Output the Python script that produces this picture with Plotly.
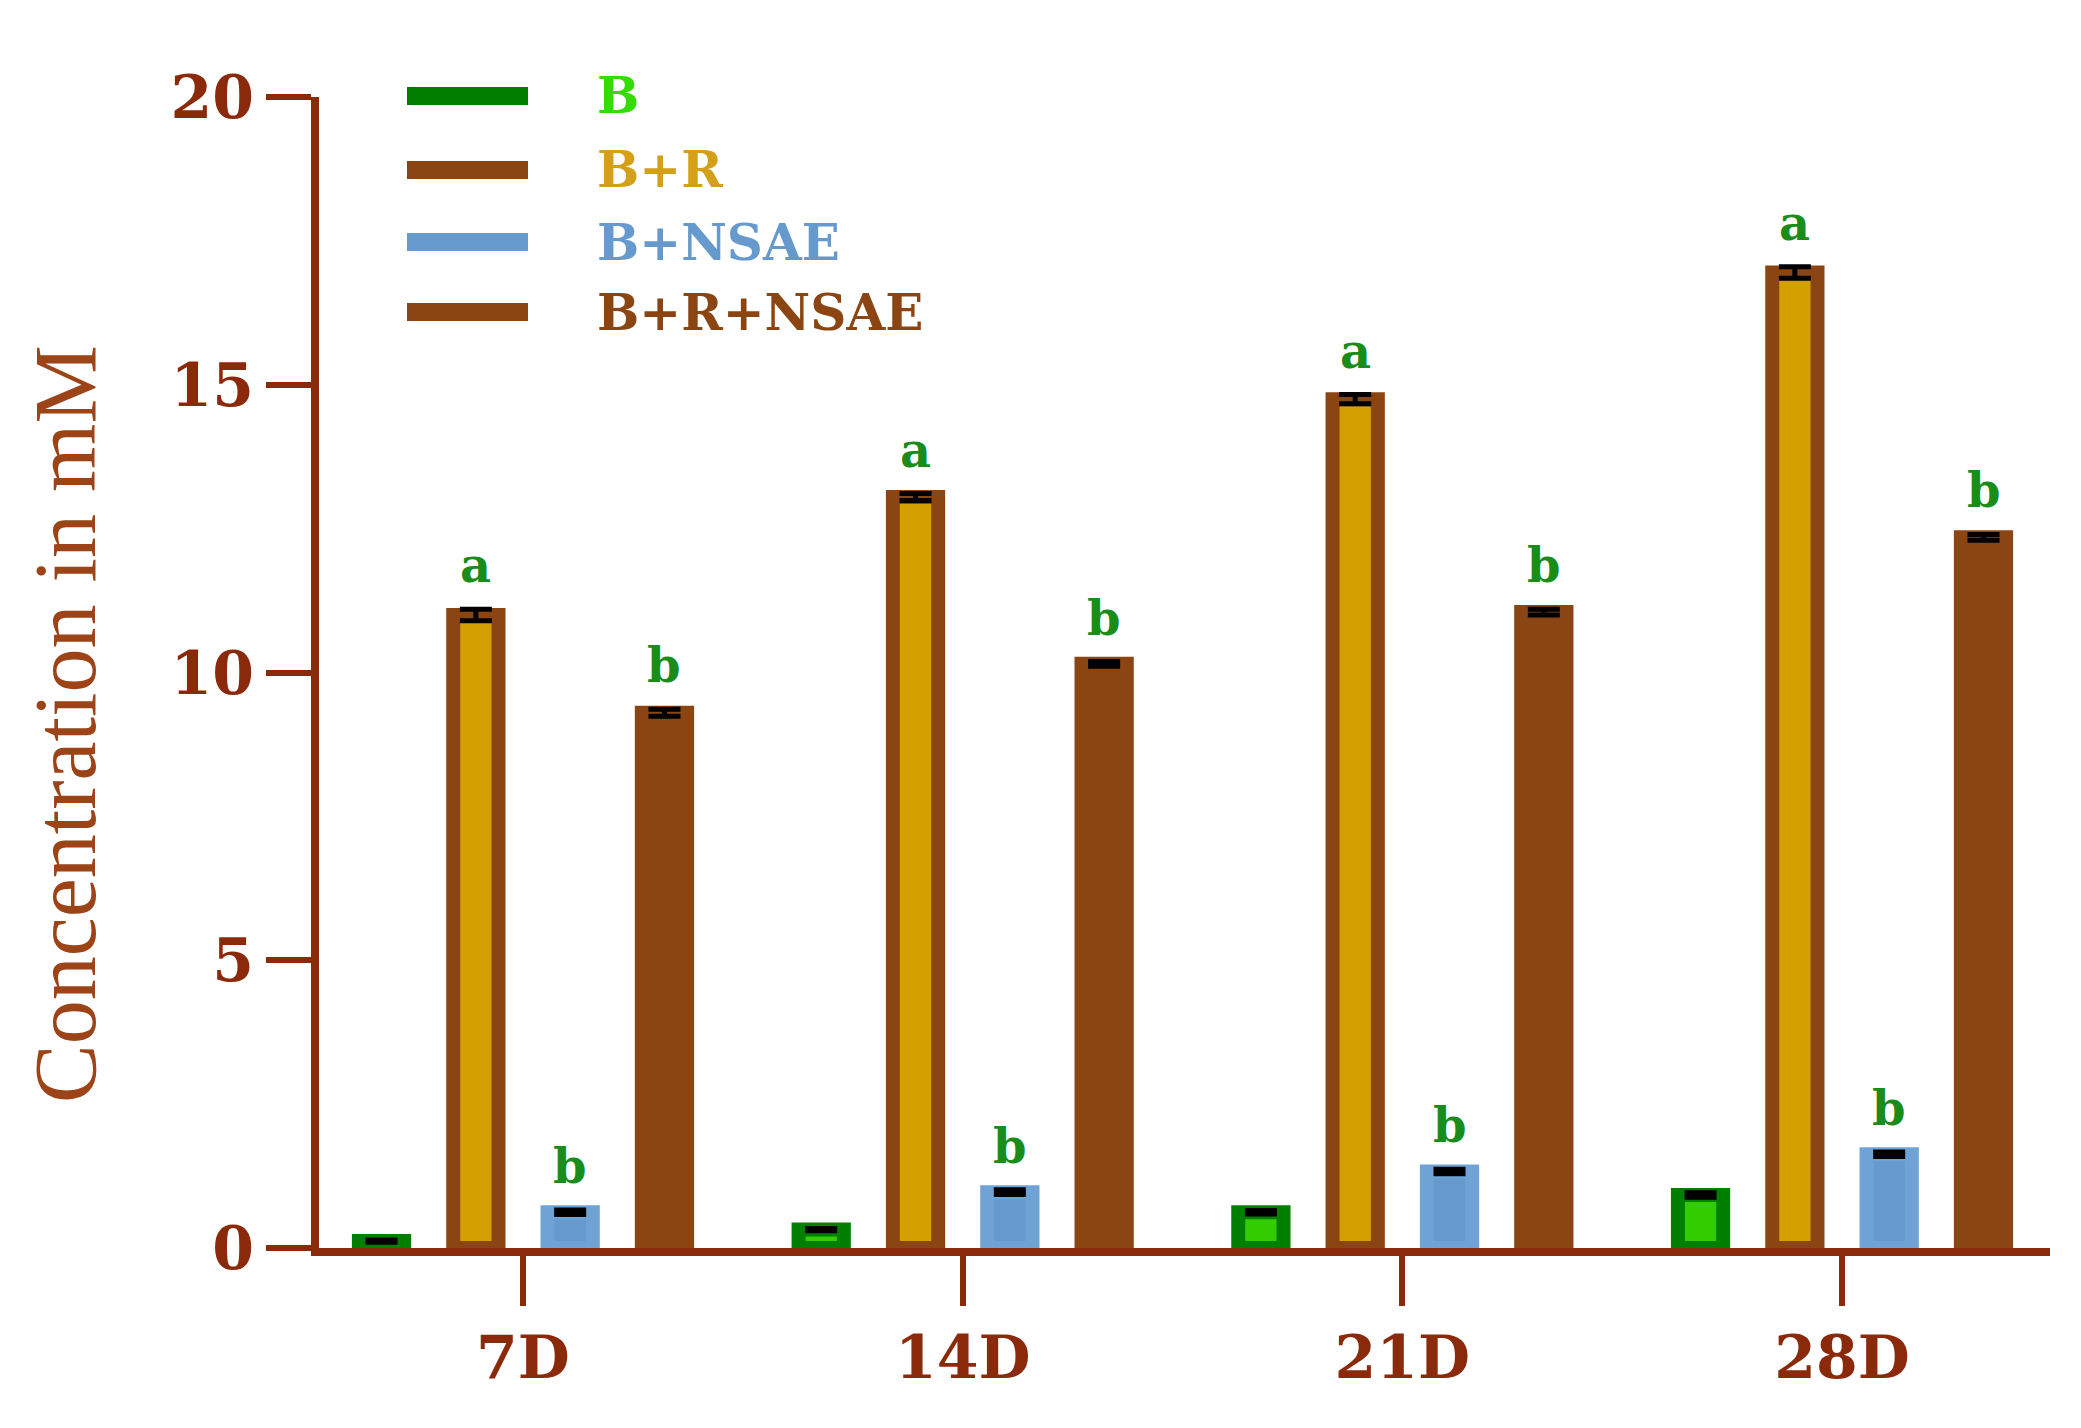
"""Grouped bar chart: concentration (mM) by day for four treatments."""

import plotly.graph_objects as go

days = ["7D", "14D", "21D", "28D"]

series_names = ["B", "B+R", "B+NSAE", "B+R+NSAE"]
b_vals = [0.12, 0.32, 0.62, 0.92]
br_vals = [11.0, 13.05, 14.75, 16.95]
bnsae_vals = [0.62, 0.97, 1.33, 1.63]
brnsae_vals = [9.3, 10.15, 11.05, 12.35]

b_err = [0.02, 0.02, 0.03, 0.04]
br_err = [0.1, 0.06, 0.08, 0.1]
bnsae_err = [0.04, 0.04, 0.04, 0.04]
brnsae_err = [0.06, 0.04, 0.05, 0.05]

# significance letters per series (empty = none)
b_letters = ["", "", "", ""]
br_letters = ["a", "a", "a", "a"]
bnsae_letters = ["b", "b", "b", "b"]
brnsae_letters = ["b", "b", "b", "b"]

AXIS = "#8B2A0A"
BROWN = "#8B4513"
FONT = "DejaVu Serif"

values = [b_vals, br_vals, bnsae_vals, brnsae_vals]
errors = [b_err, br_err, bnsae_err, brnsae_err]
letters = [b_letters, br_letters, bnsae_letters, brnsae_letters]
fills = ["#33CC00", "#D4A000", "#6699CC", BROWN]
borders = ["#007F00", BROWN, "#6FA3D6", BROWN]
legend_line = ["#007F00", BROWN, "#6699CC", BROWN]
legend_text = ["#33DD00", "#D4A017", "#6699CC", BROWN]

BARGAP = 0.142

# plot area in figure pixels
L, R, T, B = 311, 39, 89, 188
W, H = 2081, 1428
PW, PH = W - L - R, H - T - B


def paper_x(px):
    return (px - L) / PW


def paper_y(py):
    return (H - B - py) / PH


fig = go.Figure()
for name, vals, err, fill, border in zip(series_names, values, errors, fills, borders):
    fig.add_trace(
        go.Bar(
            x=days,
            y=vals,
            name=name,
            marker=dict(color=fill, line=dict(color=border, width=14)),
            error_y=dict(type="data", array=err, color="black", thickness=5, width=16),
            showlegend=False,
        )
    )

# significance letters above each bar
slot = (1 - BARGAP) / len(series_names)
annotations = []
for j, (vals, errs, labs) in enumerate(zip(values, errors, letters)):
    for i, (v, e, lab) in enumerate(zip(vals, errs, labs)):
        if not lab:
            continue
        annotations.append(
            dict(
                x=i + (j - 1.5) * slot,
                y=v + e,
                xref="x",
                yref="y",
                text=f"<b>{lab}</b>",
                showarrow=False,
                yanchor="bottom",
                yshift=14,
                font=dict(family=FONT, size=48, color="#1A8C1A"),
            )
        )

# legend drawn by hand so that the keys are long thick lines
legend_y = [88, 162, 234, 304]
for ypx, name, lc, tc in zip(legend_y, series_names, legend_line, legend_text):
    fig.add_shape(
        type="line",
        xref="paper",
        yref="paper",
        x0=paper_x(399),
        x1=paper_x(520),
        y0=paper_y(ypx),
        y1=paper_y(ypx),
        line=dict(color=lc, width=18),
    )
    annotations.append(
        dict(
            x=paper_x(587),
            y=paper_y(ypx),
            xref="paper",
            yref="paper",
            xanchor="left",
            yanchor="middle",
            text=f"<b>{name}</b>",
            showarrow=False,
            font=dict(family=FONT, size=50, color=tc),
        )
    )

annotations.append(
    dict(
        x=paper_x(57),
        y=paper_y(716),
        xref="paper",
        yref="paper",
        xanchor="center",
        yanchor="middle",
        text="Concentration in mM",
        textangle=-90,
        showarrow=False,
        font=dict(family="Liberation Serif", size=88, color="#9C4318"),
    )
)

fig.update_layout(
    width=W,
    height=H,
    barmode="group",
    bargap=BARGAP,
    bargroupgap=0.52,
    plot_bgcolor="white",
    paper_bgcolor="white",
    margin=dict(l=L, r=R, t=T, b=B),
    annotations=annotations,
    xaxis=dict(
        range=[-0.464, 3.473],
        automargin=False,
        showline=True,
        linecolor=AXIS,
        linewidth=8,
        ticks="outside",
        ticklen=50,
        tickwidth=6,
        tickcolor=AXIS,
        showgrid=False,
        zeroline=False,
        tickfont=dict(family=FONT, size=60, color=AXIS, weight="bold"),
    ),
    yaxis=dict(
        range=[0, 20],
        automargin=False,
        tickvals=[0, 5, 10, 15, 20],
        showline=True,
        linecolor=AXIS,
        linewidth=8,
        ticks="outside",
        ticklen=45,
        tickwidth=6,
        tickcolor=AXIS,
        showgrid=False,
        zeroline=False,
        ticklabelstandoff=0,
        tickfont=dict(family=FONT, size=60, color=AXIS, weight="bold"),
    ),
)

fig.write_html("out.html")
